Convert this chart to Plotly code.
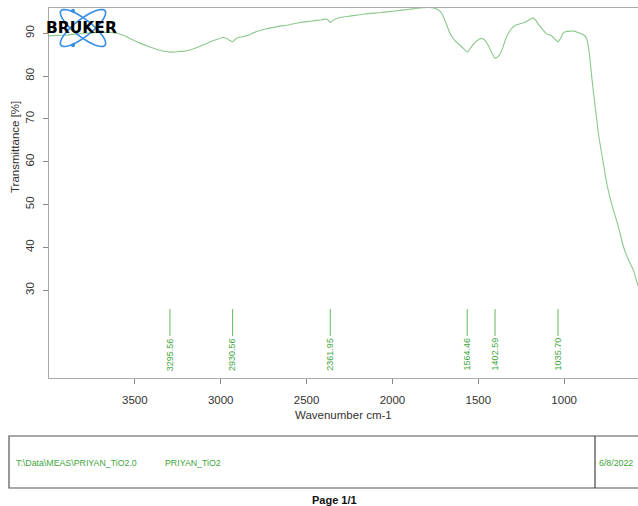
import math
import plotly.graph_objects as go

# ---------------- data ----------------
wavenumber = [4000, 3950, 3900, 3850, 3800, 3750, 3700, 3650, 3607, 3560, 3520, 3471,
              3420, 3370, 3330, 3297, 3250, 3199, 3150, 3100, 3060, 3020, 2990, 2970,
              2950, 2931, 2915, 2899, 2870, 2850, 2820, 2791, 2740, 2675, 2600, 2539,
              2480, 2422, 2390, 2375, 2362, 2350, 2323, 2250, 2160, 2080, 1985, 1900,
              1840, 1790, 1760, 1735, 1715, 1694, 1665, 1636, 1607, 1585, 1565, 1540,
              1510, 1480, 1460, 1440, 1421, 1403, 1380, 1360, 1345, 1316, 1287, 1258,
              1228, 1200, 1182, 1165, 1152, 1124, 1100, 1080, 1060, 1042, 1035, 1020,
              1007, 989, 966, 943, 920, 900, 885, 870, 856, 845, 833, 815, 798, 775,
              748, 719, 684, 655, 626, 597, 574, 560]
transmittance = [89.4, 89.5, 89.6, 89.8, 90.0, 90.1, 90.2, 90.2, 90.0, 89.4, 88.6, 87.7,
                 86.9, 86.2, 85.8, 85.6, 85.7, 85.9, 86.5, 87.3, 88.0, 88.6, 89.0, 88.9,
                 88.4, 88.0, 88.6, 89.0, 89.2, 89.4, 89.9, 90.4, 91.0, 91.5, 92.0, 92.5,
                 92.8, 93.1, 93.3, 93.1, 92.5, 92.9, 93.5, 94.0, 94.5, 94.8, 95.2, 95.6,
                 95.9, 96.0, 95.9, 95.5, 94.8, 93.0, 90.0, 88.3, 87.2, 86.4, 85.6, 86.9,
                 88.2, 88.8, 88.3, 87.0, 85.4, 84.2, 84.8, 86.3, 88.2, 90.6, 91.8, 92.2,
                 92.6, 93.2, 93.6, 93.0, 92.2, 90.8, 89.8, 89.6, 88.9, 88.2, 88.0, 88.9,
                 90.0, 90.4, 90.5, 90.5, 90.2, 89.9, 89.6, 88.8, 86.1, 82.0, 77.5, 71.4,
                 65.9, 60.4, 54.2, 49.5, 44.8, 40.2, 37.1, 34.7, 31.6, 30.0]

peak_positions = [3295.56, 2930.56, 2361.95, 1564.46, 1402.59, 1035.70]
peak_labels = ["3295.56", "2930.56", "2361.95", "1564.46", "1402.59", "1035.70"]

x_tick_values = [3500, 3000, 2500, 2000, 1500, 1000]
y_tick_values = [30, 40, 50, 60, 70, 80, 90]

file_path = "T:\\Data\\MEAS\\PRIYAN_TiO2.0"
sample_name = "PRIYAN_TiO2"
meas_date = "6/8/2022"

# ---------------- layout geometry ----------------
W, H = 638, 506
ML, MR, MT, MB = 49, 0, 8, 128
PW = W - ML - MR
PH = H - MT - MB
X_RANGE = [4000, 570]
Y_RANGE = [9.5, 95.9]

def px_x(px):
    return (px - ML) / PW

def px_y(py):
    return (H - MB - py) / PH

FONT = "Liberation Sans, Arial, sans-serif"
GREEN_LINE = "rgb(140,200,140)"
PEAK_GREEN = "rgb(60,165,60)"

fig = go.Figure()

fig.add_trace(go.Scatter(
    x=wavenumber, y=transmittance, mode="lines", line_shape="spline",
    line=dict(color=GREEN_LINE, width=1.1, smoothing=0.6),
    hoverinfo="skip", showlegend=False))

# peak marker lines
px_lines, py_lines = [], []
for p in peak_positions:
    px_lines += [p, p, None]
    py_lines += [19.3, 25.6, None]
fig.add_trace(go.Scatter(
    x=px_lines, y=py_lines, mode="lines",
    line=dict(color=PEAK_GREEN, width=0.8), hoverinfo="skip", showlegend=False))

annotations = []
for p, lab in zip(peak_positions, peak_labels):
    annotations.append(dict(
        x=p, y=10.7, xref="x", yref="y", text=lab, showarrow=False,
        textangle=-90, xanchor="center", yanchor="bottom",
        font=dict(family=FONT, size=9, color=PEAK_GREEN)))

annotations.append(dict(
    x=0.5, y=px_y(415), xref="paper", yref="paper", text="Wavenumber cm-1",
    showarrow=False, xanchor="center", yanchor="middle",
    font=dict(family=FONT, size=11.5, color="#333333")))
annotations.append(dict(
    x=px_x(15), y=px_y(147), xref="paper", yref="paper", text="Transmittance [%]",
    showarrow=False, textangle=-90, xanchor="center", yanchor="middle",
    font=dict(family=FONT, size=11.5, color="#333333")))

# bottom info box texts
box_text_y = px_y(463)
annotations.append(dict(
    x=px_x(14), y=box_text_y, xref="paper", yref="paper", text=file_path,
    showarrow=False, xanchor="left", yanchor="middle",
    font=dict(family=FONT, size=8.8, color=PEAK_GREEN)))
annotations.append(dict(
    x=px_x(163), y=box_text_y, xref="paper", yref="paper", text=sample_name,
    showarrow=False, xanchor="left", yanchor="middle",
    font=dict(family=FONT, size=8.8, color=PEAK_GREEN)))
annotations.append(dict(
    x=px_x(597), y=box_text_y, xref="paper", yref="paper", text=meas_date,
    showarrow=False, xanchor="left", yanchor="middle",
    font=dict(family=FONT, size=8.8, color=PEAK_GREEN)))
annotations.append(dict(
    x=px_x(334), y=px_y(500), xref="paper", yref="paper", text="<b>Page 1/1</b>",
    showarrow=False, xanchor="center", yanchor="middle",
    font=dict(family=FONT, size=11, color="#111111")))

# BRUKER logo text
annotations.append(dict(
    x=px_x(81), y=px_y(28), xref="paper", yref="paper", text="<b>BRUKER</b>",
    showarrow=False, xanchor="center", yanchor="middle",
    font=dict(family="DejaVu Sans, sans-serif", size=15.5, color="#000000")))

shapes = []
# info box
shapes.append(dict(type="rect", xref="paper", yref="paper",
                   x0=px_x(9), x1=px_x(642), y0=px_y(488), y1=px_y(436),
                   line=dict(color="#555555", width=1.2)))
shapes.append(dict(type="line", xref="paper", yref="paper",
                   x0=px_x(595), x1=px_x(595), y0=px_y(488), y1=px_y(436),
                   line=dict(color="#444444", width=1.2)))

# logo ellipses (decoration)
def ellipse_path(cx, cy, a, b, ang_deg, n=48):
    t = math.radians(ang_deg)
    pts = []
    for i in range(n + 1):
        s = 2 * math.pi * i / n
        ex, ey = a * math.cos(s), b * math.sin(s)
        X = cx + ex * math.cos(t) - ey * math.sin(t)
        Y = cy + ex * math.sin(t) + ey * math.cos(t)
        pts.append(f"{px_x(X):.5f},{px_y(Y):.5f}")
    return "M" + " L".join(pts) + " Z"

LOGO_BLUE = "rgb(55,140,230)"
for ang in (38, -38):
    shapes.append(dict(type="path", xref="paper", yref="paper",
                       path=ellipse_path(83, 28, 28, 8.5, ang),
                       line=dict(color=LOGO_BLUE, width=1.6)))
for (dx, dy) in ((73, 10.8), (73, 45.2)):
    shapes.append(dict(type="circle", xref="paper", yref="paper",
                       x0=px_x(dx - 2), x1=px_x(dx + 2), y0=px_y(dy + 2), y1=px_y(dy - 2),
                       fillcolor=LOGO_BLUE, line=dict(color=LOGO_BLUE, width=0)))

fig.update_layout(
    width=W, height=H,
    margin=dict(l=ML, r=MR, t=MT, b=MB, pad=0),
    paper_bgcolor="white", plot_bgcolor="white",
    showlegend=False,
    annotations=annotations,
    shapes=shapes,
    xaxis=dict(range=X_RANGE, tickvals=x_tick_values, ticks="outside", ticklen=5,
               tickcolor="#888888", showgrid=False, zeroline=False,
               showline=True, linecolor="#aaaaaa", linewidth=1, mirror=True,
               tickfont=dict(family=FONT, size=11.5, color="#333333"),
               ticklabelstandoff=6),
    yaxis=dict(range=Y_RANGE, tickvals=y_tick_values, ticks="outside", ticklen=5,
               tickcolor="#888888", showgrid=False, zeroline=False,
               showline=True, linecolor="#aaaaaa", linewidth=1,
               tickangle=-90,
               tickfont=dict(family=FONT, size=11.5, color="#333333"),
               ticklabelstandoff=4),
)

fig.write_html(
    "out.html",
    config={"displayModeBar": False},
    post_script="document.body.style.margin='0';document.body.style.overflow='hidden';",
)
